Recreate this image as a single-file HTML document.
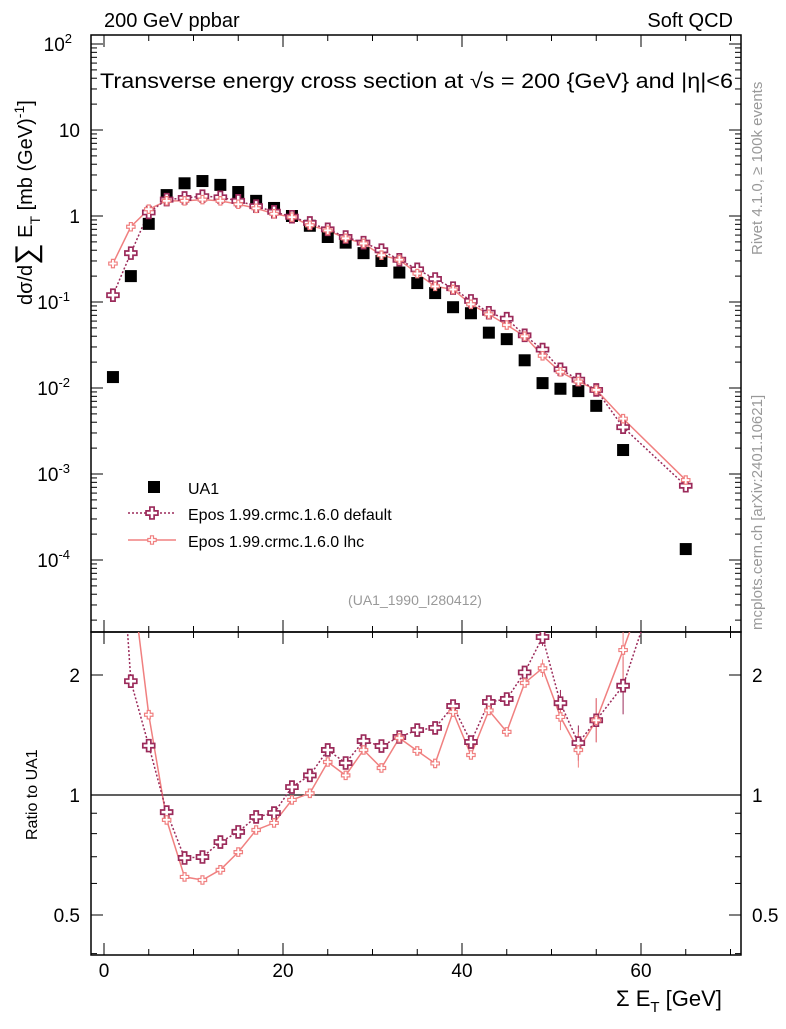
<!DOCTYPE html>
<html><head><meta charset="utf-8"><style>
body{margin:0;background:#fff;}
svg{font-family:"Liberation Sans",sans-serif;}
</style></head><body>
<svg id="c" width="786" height="1024" viewBox="0 0 786 1024" xmlns="http://www.w3.org/2000/svg"></svg>
<script>
const xs=[1,3,5,7,9,11,13,15,17,19,21,23,25,27,29,31,33,35,37,39,41,43,45,47,49,51,53,55,58,65];
const ua1=[0.0134,0.2,0.81,1.75,2.4,2.55,2.3,1.9,1.5,1.24,1.0,0.77,0.57,0.49,0.37,0.3,0.22,0.166,0.127,0.087,0.074,0.044,0.037,0.021,0.0114,0.0098,0.0092,0.0062,0.0019,0.000134];
const epDef=[0.12,0.37,1.1,1.55,1.62,1.7,1.65,1.5,1.3,1.12,0.98,0.83,0.7,0.57,0.49,0.4,0.31,0.24,0.185,0.145,0.103,0.075,0.064,0.041,0.028,0.0165,0.0125,0.0095,0.0035,0.00073];
const epLhc=[0.28,0.75,1.2,1.5,1.5,1.55,1.5,1.37,1.23,1.06,0.97,0.78,0.68,0.55,0.48,0.35,0.31,0.214,0.152,0.14,0.094,0.072,0.054,0.04,0.0237,0.0154,0.0119,0.0095,0.0044,0.00085];
const rDef=[9,1.93,1.33,0.906,0.695,0.699,0.762,0.808,0.881,0.901,1.047,1.12,1.297,1.203,1.366,1.327,1.398,1.455,1.473,1.672,1.358,1.711,1.741,2.03,2.49,1.7,1.35,1.54,1.88,5.6];
const rLhc=[21,3.7,1.59,0.866,0.623,0.612,0.649,0.719,0.817,0.851,0.972,1.01,1.21,1.12,1.297,1.169,1.39,1.29,1.2,1.615,1.26,1.63,1.44,1.91,2.08,1.57,1.297,1.54,2.31,6.3];
const xTicks=[0,20,40,60];
const yTicks=[2,1,0,-1,-2,-3,-4];
const rTicks=[0.5,1,2];

const S=document.getElementById('c'),NS='http://www.w3.org/2000/svg';
function el(t,a,p){const e=document.createElementNS(NS,t);for(const k in a)e.setAttribute(k,a[k]);(p||S).appendChild(e);return e;}
const L=91,R=741,T=35,M=632,B=955;
const X=v=>104+(v)*8.95;
const Y=v=>216-Math.log10(v)*86;
const YR=v=>795-Math.log10(v)*398.6;
const cDef='#9b2a5a',cLhc='#f08080';
const defs=el('defs',{});
const c1=el('clipPath',{id:'cm'},defs);el('rect',{x:L,y:T,width:R-L,height:M-T},c1);
const c2=el('clipPath',{id:'cr'},defs);el('rect',{x:L,y:M,width:R-L,height:B-M},c2);

let f=el('rect',{x:L,y:T,width:R-L,height:M-T,fill:'none',stroke:'#000','stroke-width':1.5});

f=el('rect',{x:L,y:M,width:R-L,height:B-M,fill:'none',stroke:'#000','stroke-width':1.5});


function txt(s,a,name){const t=el('text',a);t.textContent=s;return t;}
for(let v=0;v<=70;v+=5){const big=v%20==0;const x=X(v);
 for(const [yb,yt] of [[M,T],[B,M]]){el('line',{x1:x,x2:x,y1:yb,y2:yb-(big?12:6),stroke:'#000'});el('line',{x1:x,x2:x,y1:yt,y2:yt+(big?12:6),stroke:'#000'});}}
xTicks.forEach(v=>txt(String(v),{x:X(v),y:977,'font-size':19,'text-anchor':'middle'},'x-tick-label'));
for(let d=-5;d<=2;d++){for(let m=1;m<10;m++){const v=m*Math.pow(10,d);const y=Y(v);if(y<T||y>M)continue;const w=m==1?12:6;
 el('line',{x1:L,x2:L+w,y1:y,y2:y,stroke:'#000'});el('line',{x1:R,x2:R-w,y1:y,y2:y,stroke:'#000'});}}
yTicks.forEach(d=>{const y=Y(Math.pow(10,d));let t;
 if(d==0||d==1){t=txt(d==0?'1':'10',{x:80,y:y+7,'font-size':19,'text-anchor':'end'},'y-tick-label');}
 else{t=txt('10',{x:d<0?70:72,y:y+7,'font-size':19,'text-anchor':'end'},'y-tick-label');const s=el('tspan',{dy:-8,'font-size':13},t);s.textContent=String(d);}});
[0.4,0.5,0.6,0.7,0.8,0.9,1,2].forEach(v=>{const y=YR(v);if(y<M||y>B)return;const w=(v==0.5||v==1||v==2)?12:6;
 el('line',{x1:L,x2:L+w,y1:y,y2:y,stroke:'#000'});el('line',{x1:R,x2:R-w,y1:y,y2:y,stroke:'#000'});});
rTicks.forEach(v=>{txt(String(v),{x:80,y:YR(v)+7,'font-size':19,'text-anchor':'end'},'ratio-tick-label');txt(String(v),{x:752,y:YR(v)+7,'font-size':19},'ratio-tick-label-right');});
el('line',{x1:L,x2:R,y1:YR(1),y2:YR(1),stroke:'#000','stroke-width':1.2});

function cross(g,x,y,c,fill){el('path',{d:`M${x-2.5},${y-7}h5v4.5h4.5v5h-4.5v4.5h-5v-4.5h-4.5v-5h4.5z`,fill:fill,stroke:c,'stroke-width':2},g);}
const gm=el('g',{'clip-path':'url(#cm)'});
let pl=el('polyline',{points:xs.map((x,i)=>X(x)+','+Y(epLhc[i])).join(' '),fill:'none',stroke:cLhc,'stroke-width':1.5},gm);

pl=el('polyline',{points:xs.map((x,i)=>X(x)+','+Y(epDef[i])).join(' '),fill:'none',stroke:cDef,'stroke-width':1.5,'stroke-dasharray':'2,2'},gm);

xs.forEach((x,i)=>{const r=el('rect',{x:X(x)-6,y:Y(ua1[i])-6,width:12,height:12,fill:'#000'},gm);});
xs.forEach((x,i)=>{const g=el('g',{transform:`translate(${X(x)},${Y(epDef[i])}) scale(0.85)`},gm);cross(g,0,0,cDef,'#fff');});
xs.forEach((x,i)=>{const g=el('g',{transform:`translate(${X(x)},${Y(epLhc[i])}) scale(0.6)`},gm);cross(g,0,0,cLhc,'#fff');});
const gr=el('g',{'clip-path':'url(#cr)'});
pl=el('polyline',{points:xs.map((x,i)=>X(x)+','+YR(rLhc[i])).join(' '),fill:'none',stroke:cLhc,'stroke-width':1.5},gr);

pl=el('polyline',{points:xs.map((x,i)=>X(x)+','+YR(rDef[i])).join(' '),fill:'none',stroke:cDef,'stroke-width':1.5,'stroke-dasharray':'2,2'},gr);

xs.forEach((x,i)=>{if(x>=49){const e=(x-45)*2.2;el('line',{x1:X(x),x2:X(x),y1:YR(rDef[i])-e,y2:YR(rDef[i])+e,stroke:cDef},gr);el('line',{x1:X(x),x2:X(x),y1:YR(rLhc[i])-e,y2:YR(rLhc[i])+e,stroke:cLhc},gr);}});
xs.forEach((x,i)=>{const g=el('g',{transform:`translate(${X(x)},${YR(rDef[i])}) scale(0.85)`},gr);cross(g,0,0,cDef,'#fff');});
xs.forEach((x,i)=>{const g=el('g',{transform:`translate(${X(x)},${YR(rLhc[i])}) scale(0.6)`},gr);cross(g,0,0,cLhc,'#fff');});
const lg=el('g',{});
el('rect',{x:148,y:481,width:12,height:12,fill:'#000'},lg);
el('line',{x1:128,x2:176,y1:513,y2:513,stroke:cDef,'stroke-width':1.5,'stroke-dasharray':'2,2'},lg);{const g=el('g',{transform:'translate(152,513) scale(0.85)'},lg);cross(g,0,0,cDef,'#fff');}
el('line',{x1:128,x2:176,y1:540,y2:540,stroke:cLhc,'stroke-width':1.5},lg);{const g=el('g',{transform:'translate(152,540) scale(0.6)'},lg);cross(g,0,0,cLhc,'#fff');}
txt('UA1',{x:188,y:494,'font-size':16},'legend-ua1');
txt('Epos 1.99.crmc.1.6.0 default',{x:188,y:520,'font-size':16},'legend-default');
txt('Epos 1.99.crmc.1.6.0 lhc',{x:188,y:547,'font-size':16},'legend-lhc');
txt('200 GeV ppbar',{x:104,y:27,'font-size':20},'top-left-label');
txt('Soft QCD',{x:733,y:27,'font-size':20,'text-anchor':'end'},'top-right-label');
txt('Transverse energy cross section at √s = 200 {GeV} and |η|<6',{x:100,y:88,'font-size':21,textLength:633,lengthAdjust:'spacingAndGlyphs'},'plot-title');
txt('(UA1_1990_I280412)',{x:415,y:605,'font-size':14,fill:'#999','text-anchor':'middle'},'analysis-id');
txt('Rivet 4.1.0, ≥ 100k events',{x:0,y:0,'font-size':15,fill:'#999',transform:'translate(762,255) rotate(-90)'},'rivet-label');
txt('mcplots.cern.ch [arXiv:2401.10621]',{x:0,y:0,'font-size':15,fill:'#999',transform:'translate(762,630) rotate(-90)'},'mcplots-label');
let yl=txt('dσ/d',{x:0,y:0,'font-size':20,transform:'translate(32,305) rotate(-90)'},'y-axis-title');
let s=el('tspan',{'font-size':30,dy:4},yl);s.textContent='∑';
s=el('tspan',{dy:-4,'font-size':20},yl);s.textContent=' E';
s=el('tspan',{dy:8,'font-size':14},yl);s.textContent='T';s=el('tspan',{dy:-8,'font-size':20},yl);s.textContent='  [mb (GeV)';
s=el('tspan',{dy:-8,'font-size':14},yl);s.textContent='-1';s=el('tspan',{dy:8,'font-size':20},yl);s.textContent=']';
txt('Ratio to UA1',{x:0,y:0,'font-size':16,transform:'translate(37,840) rotate(-90)'},'ratio-axis-title');
let xl=txt('Σ E',{x:616,y:1006,'font-size':22},'x-axis-title');
s=el('tspan',{dy:6,'font-size':15},xl);s.textContent='T';s=el('tspan',{dy:-6,'font-size':22},xl);s.textContent=' [GeV]';
</script>
</body></html>
